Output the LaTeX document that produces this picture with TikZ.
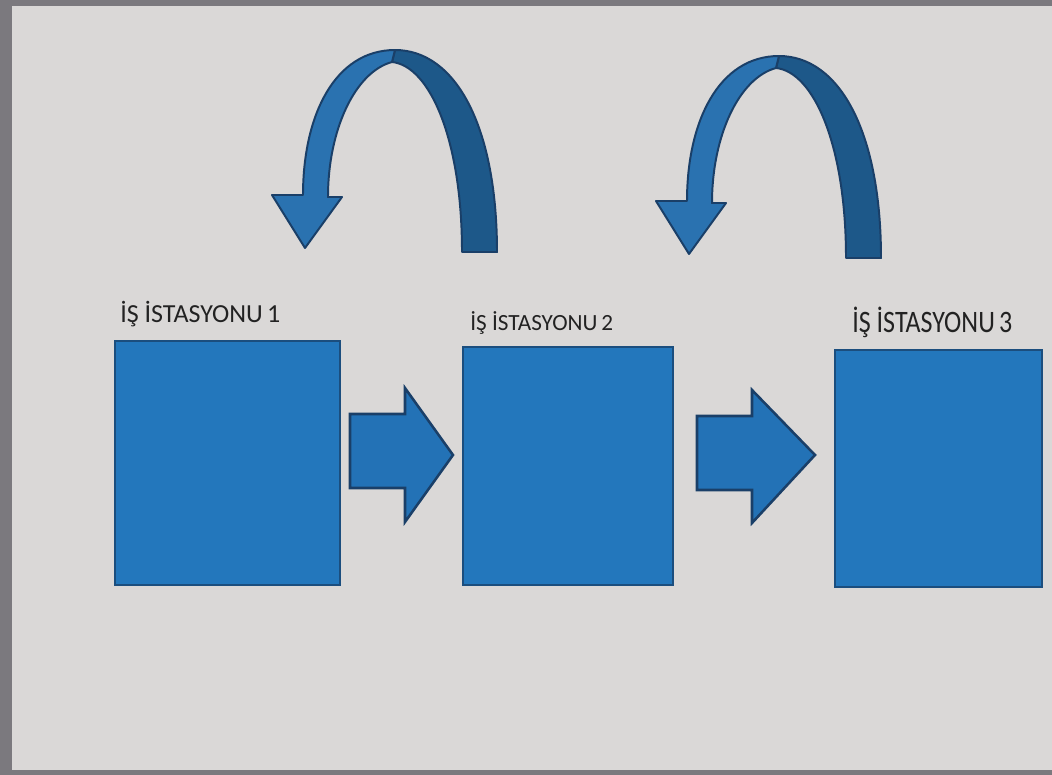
\documentclass[tikz,border=0pt]{standalone}
\usepackage{fontspec}
\setmainfont{Carlito}
\begin{document}
\begin{tikzpicture}[x=0.025cm,y=-0.025cm]
\definecolor{frame}{HTML}{7B797E}
\definecolor{screen}{HTML}{DAD8D7}
\definecolor{boxfill}{HTML}{2377BC}
\definecolor{boxline}{HTML}{1B4E7E}
\definecolor{arrfill}{HTML}{2372B6}
\definecolor{arrline}{HTML}{1A3F68}
\definecolor{bandlight}{HTML}{2A72B0}
\definecolor{banddark}{HTML}{1D5889}
\definecolor{txt}{HTML}{222222}
\tikzset{
  box/.style={draw=boxline, line width=1.6pt, fill=boxfill, inner sep=0pt},
  blockarrow/.style={draw=arrline, line width=1.8pt, fill=arrfill, line join=miter},
  label/.style={anchor=base west, inner sep=0pt, text=txt, font=\fontsize{18.5}{20}\selectfont},
  band/.style={draw=arrline, line width=1.4pt, line join=round}
}
% background
\fill[frame] (0,0) rectangle (1052,775);
\fill[screen] (12,6) rectangle (1052,770);
\useasboundingbox (0,0) rectangle (1052,775);

% boxes
\node[box, minimum width=5.625cm, minimum height=6.1cm] (b1) at (227.5,463) {};
\node[box, minimum width=5.25cm, minimum height=5.95cm] (b2) at (568,466) {};
\node[box, minimum width=5.175cm, minimum height=5.925cm] (b3) at (938.5,468.5) {};

% labels
\node[label] (l1) at (120,322) {İŞ İSTASYONU\,1};
\node[label, font=\fontsize{16.5}{18}\selectfont] (l2) at (470,330) {İŞ İSTASYONU\,2};
\node[label, yscale=1.2] (l3) at (852,332) {İŞ İSTASYONU\,3};

% right block arrows
\draw[blockarrow] (350,414) -- (405,414) -- (405,388) -- (453,455) -- (405,522) -- (405,488) -- (350,488) -- cycle;
\draw[blockarrow] (697,416) -- (752,416) -- (752,390) -- (815,455) -- (752,523) -- (752,490) -- (697,490) -- cycle;

% curved arrows
\foreach \dx/\dy in {0/0, 384/6} {
  \begin{scope}[shift={(\dx,\dy)}]
    % dark back band
    \draw[band, fill=banddark] (497,252) .. controls (497,125) and (455,50) .. (395,50)
       -- (392,62) .. controls (430,66) and (462,140) .. (462,252) -- cycle;
    % light front band with head
    \draw[band, fill=bandlight] (395,50) .. controls (335,50) and (303,115) .. (303,195)
       -- (272,195) -- (305,248) -- (342,197) -- (328,197)
       .. controls (328,130) and (355,72) .. (392,62) -- cycle;
  \end{scope}
}
\end{tikzpicture}
\end{document}
